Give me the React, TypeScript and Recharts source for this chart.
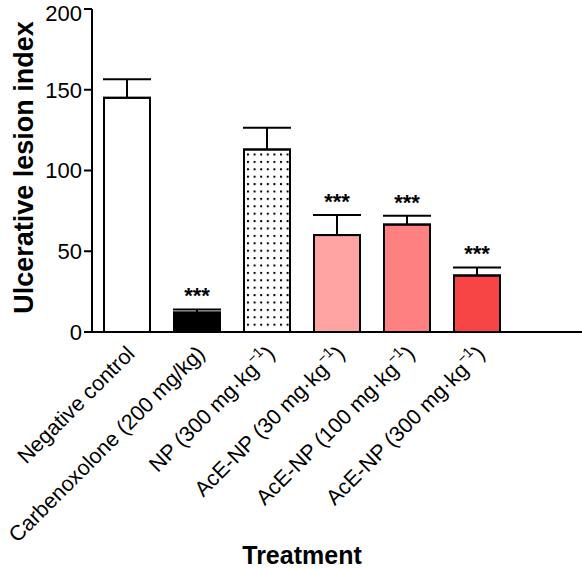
import { BarChart, Bar, XAxis, YAxis, ErrorBar, LabelList } from 'recharts';

const treatments = [
  'Negative control',
  'Carbenoxolone (200 mg/kg)',
  'NP (300 mg·kg⁻¹)',
  'AcE-NP (30 mg·kg⁻¹)',
  'AcE-NP (100 mg·kg⁻¹)',
  'AcE-NP (300 mg·kg⁻¹)',
  '',
];
const lesionIndex = [145, 12, 113, 60, 66.5, 35, null];
const sem = [11.5, 2, 13.5, 12.5, 5.5, 5, null];
const significance = ['', '***', '', '***', '***', '***', ''];
const barFills = ['#ffffff', '#000000', 'url(#npDots)', '#ffa3a3', '#ff8080', '#f74444', '#ffffff'];
const yTicks = [0, 50, 100, 150, 200];

const FONT = '"Liberation Sans", Arial, Helvetica, sans-serif';

const data = treatments.map((name, i) => ({
  name,
  value: lesionIndex[i],
  err: sem[i] == null ? null : [0, sem[i]],
  sig: significance[i],
  fill: barFills[i],
}));

const BarShape = (props: any) => {
  const { x, y, width, height, payload } = props;
  if (payload.value == null) return null;
  return (
    <g>
      {payload.fill.startsWith('url') && (
        <defs>
          <pattern id="npDots" patternUnits="userSpaceOnUse" x={x + 3} y={y + 4} width={6.6} height={7.4}>
            <rect x={0} y={0} width={2} height={2} fill="#000" />
          </pattern>
        </defs>
      )}
      <rect x={x} y={y} width={width} height={height} fill={payload.fill} stroke="#000" strokeWidth={2} />
    </g>
  );
};

const XTick = (props: any) => {
  const { x, y, payload } = props;
  const label: string = payload.value;
  if (!label) return null;
  const parts = label.split('⁻¹');
  return (
    <g transform={`translate(${x + 9},${y + 15})`}>
      <text x={0} y={0} textAnchor="end" transform="rotate(-45)" fontSize={21.5} fontFamily={FONT} fill="#000">
        {parts.length > 1 ? (
          <>
            {parts[0]}
            <tspan fontSize={14} dy={-10}>−1</tspan>
            <tspan dy={10}>{parts[1]}</tspan>
          </>
        ) : (
          label
        )}
      </text>
    </g>
  );
};

const Stars = (props: any) => {
  const { x, y, width, height, value, index } = props;
  if (!value) return null;
  const v = lesionIndex[index] as number;
  const e = sem[index] as number;
  const top = y - (e * height) / v;
  return (
    <text x={x + width / 2} y={top - 6} textAnchor="middle" fontSize={22} fontWeight="bold" fontFamily={FONT} fill="#000">
      {value}
    </text>
  );
};

// x title sits under the six treatment groups, not the whole axis
const TreatmentLabel = (props: any) => {
  const { viewBox } = props;
  const band = viewBox.width / treatments.length;
  const cx = viewBox.x + (band * (treatments.length - 1)) / 2;
  return (
    <text x={cx} y={viewBox.y + viewBox.height - 5} textAnchor="middle" fontSize={25} fontWeight="bold" fontFamily={FONT} fill="#000">
      Treatment
    </text>
  );
};

const YTitle = (props: any) => {
  const { viewBox } = props;
  const cx = 33;
  const cy = viewBox.y + viewBox.height / 2 - 3;
  return (
    <text x={cx} y={cy} transform={`rotate(-90, ${cx}, ${cy})`} textAnchor="middle" fontSize={27} fontWeight="bold" fontFamily={FONT} fill="#000">
      Ulcerative lesion index
    </text>
  );
};

export default function App() {
  return (
    <div style={{ position: 'absolute', left: 0, top: 0, background: '#fff' }}>
      <BarChart width={582} height={569} data={data} margin={{ top: 9, right: 0, bottom: 0, left: 0 }} barSize={46}>
        <XAxis
          dataKey="name"
          height={237}
          interval={0}
          tickLine={false}
          axisLine={{ stroke: '#000', strokeWidth: 2 }}
          tick={<XTick />}
          label={<TreatmentLabel />}
        />
        <YAxis
          width={92}
          domain={[0, 200]}
          ticks={yTicks}
          tickSize={8}
          axisLine={{ stroke: '#000', strokeWidth: 2 }}
          tickLine={{ stroke: '#000', strokeWidth: 2 }}
          tick={{ fontSize: 22, fill: '#000', fontFamily: FONT }}
          label={<YTitle />}
        />
        <Bar dataKey="value" shape={<BarShape />} isAnimationActive={false}>
          <ErrorBar dataKey="err" direction="y" width={24} stroke="#000" strokeWidth={2} isAnimationActive={false} />
          <LabelList dataKey="sig" content={<Stars />} />
        </Bar>
      </BarChart>
    </div>
  );
}
